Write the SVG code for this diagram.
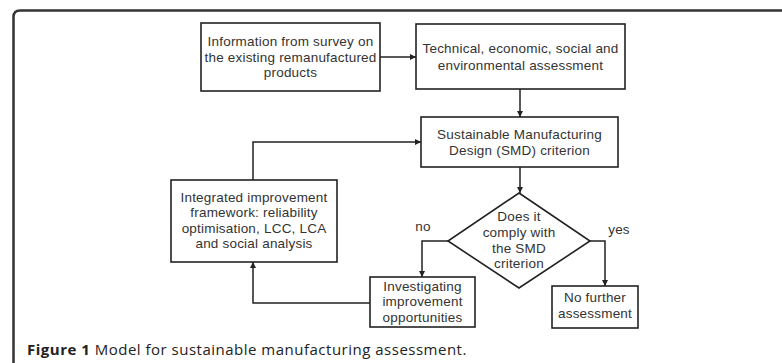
<svg xmlns="http://www.w3.org/2000/svg" width="782" height="363" viewBox="0 0 782 363">
<defs>
<marker id="ah" viewBox="0 0 10 10" refX="10" refY="5" markerWidth="6" markerHeight="6" markerUnits="userSpaceOnUse" orient="auto">
<path d="M0,0 L10,5 L0,10 z" fill="#222"/>
</marker>
<style>
.box{fill:#fff;stroke:#222;stroke-width:1.6}
.t{font-family:"Liberation Sans",Arial,sans-serif;font-size:13.5px;letter-spacing:0.2px;fill:#333;text-anchor:middle}
.c{fill:none;stroke:#222;stroke-width:1.5;marker-end:url(#ah)}
.cap{font-family:"Open Sans","Liberation Sans",sans-serif;font-size:15px;letter-spacing:0.5px;fill:#222}
</style>
</defs>
<rect width="782" height="363" fill="#fff"/>
<path d="M13.5,363 L13.5,17 Q13.5,10.5 20,10.5 L782,10.5" fill="none" stroke="#333" stroke-width="2.5"/>

<g id="connectors">
<path class="c" d="M380,57 L416,57"/>
<path class="c" d="M520,89 L520,117"/>
<path class="c" d="M253,180 L253,142 L421,142"/>
<path class="c" d="M520,167 L520,193"/>
<path class="c" d="M448,241 L422,241 L422,277"/>
<path class="c" d="M590,241 L605,241 L605,286"/>
<path class="c" d="M370,303 L253,303 L253,262"/>
</g>

<g id="n1">
<rect class="box" x="201" y="23" width="179" height="68"/>
<text class="t" x="290.5" y="46">Information from survey on</text>
<text class="t" x="290.5" y="61.5">the existing remanufactured</text>
<text class="t" x="290.5" y="77">products</text>
</g>
<g id="n2">
<rect class="box" x="416" y="24" width="209" height="65"/>
<text class="t" x="520.5" y="52.5">Technical, economic, social and</text>
<text class="t" x="520.5" y="69.5">environmental assessment</text>
</g>
<g id="n3">
<rect class="box" x="421" y="117" width="197" height="50"/>
<text class="t" x="519.5" y="139">Sustainable Manufacturing</text>
<text class="t" x="519.5" y="154.5">Design (SMD) criterion</text>
</g>
<g id="n4">
<path class="box" d="M519,193 L590,241 L519,288 L448,241 Z"/>
<text class="t" x="519" y="220.5">Does it</text>
<text class="t" x="519" y="236.5">comply with</text>
<text class="t" x="519" y="252.5">the SMD</text>
<text class="t" x="519" y="267.5">criterion</text>
</g>
<g id="n5">
<rect class="box" x="171" y="180" width="166" height="82"/>
<text class="t" x="254" y="201.5">Integrated improvement</text>
<text class="t" x="254" y="217">framework: reliability</text>
<text class="t" x="254" y="232.5">optimisation, LCC, LCA</text>
<text class="t" x="254" y="248">and social analysis</text>
</g>
<g id="n6">
<rect class="box" x="370" y="277" width="105" height="50"/>
<text class="t" x="422.5" y="291">Investigating</text>
<text class="t" x="422.5" y="306">improvement</text>
<text class="t" x="422.5" y="321.5">opportunities</text>
</g>
<g id="n7">
<rect class="box" x="552" y="286" width="86" height="42"/>
<text class="t" x="595" y="302">No further</text>
<text class="t" x="595" y="318">assessment</text>
</g>
<text class="t" x="423" y="231">no</text>
<text class="t" x="619" y="234">yes</text>
<text class="cap" x="27" y="355"><tspan font-weight="bold">Figure 1</tspan> Model for sustainable manufacturing assessment.</text>
</svg>
